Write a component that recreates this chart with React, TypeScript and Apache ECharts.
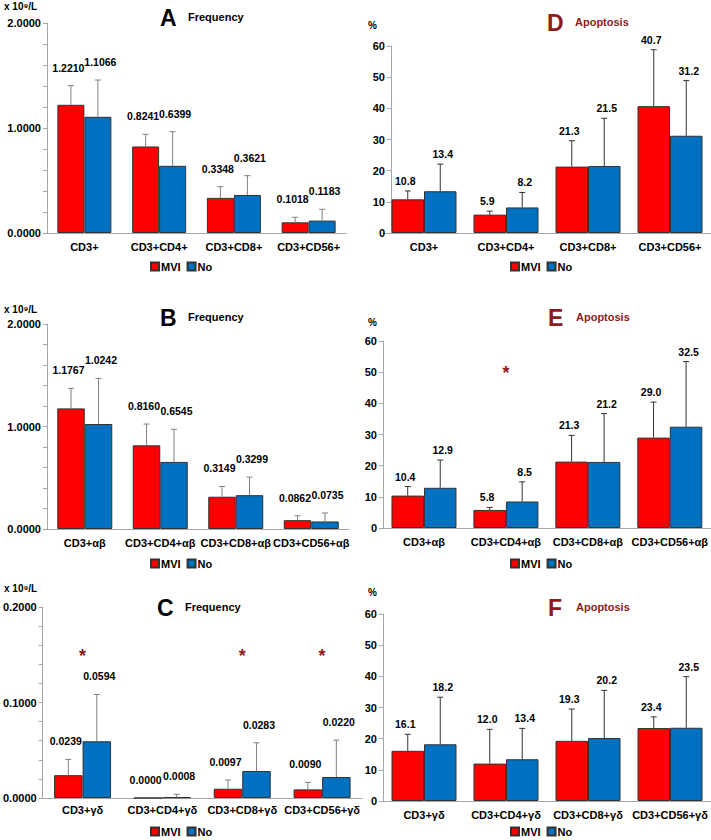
import React, { useEffect, useRef } from "react";
import * as echarts from "echarts";

// ---------- data ----------
const catA = ["CD3+", "CD3+CD4+", "CD3+CD8+", "CD3+CD56+"];
const catB = ["CD3+αβ", "CD3+CD4+αβ", "CD3+CD8+αβ", "CD3+CD56+αβ"];
const catC = ["CD3+γδ", "CD3+CD4+γδ", "CD3+CD8+γδ", "CD3+CD56+γδ"];

const freqA_MVI = [1.221, 0.8241, 0.3348, 0.1018];
const freqA_No = [1.1066, 0.6399, 0.3621, 0.1183];
const errA_MVI = [1.403, 0.94, 0.441, 0.15];
const errA_No = [1.457, 0.965, 0.546, 0.226];

const freqB_MVI = [1.1767, 0.816, 0.3149, 0.0862];
const freqB_No = [1.0242, 0.6545, 0.3299, 0.0735];
const errB_MVI = [1.372, 1.024, 0.415, 0.129];
const errB_No = [1.469, 0.973, 0.506, 0.156];

const freqC_MVI = [0.0239, 0.0, 0.0097, 0.009];
const freqC_No = [0.0594, 0.0008, 0.0283, 0.022];
const errC_MVI = [0.0404, 0.0, 0.0188, 0.0164];
const errC_No = [0.1084, 0.0039, 0.0578, 0.0606];

const apoD_MVI = [10.8, 5.9, 21.3, 40.7];
const apoD_No = [13.4, 8.2, 21.5, 31.2];
const errD_MVI = [13.5, 7.0, 29.6, 58.8];
const errD_No = [22.1, 13.0, 36.8, 48.9];

const apoE_MVI = [10.4, 5.8, 21.3, 29.0];
const apoE_No = [12.9, 8.5, 21.2, 32.5];
const errE_MVI = [13.3, 6.6, 29.7, 40.4];
const errE_No = [21.8, 14.8, 36.7, 53.4];

const apoF_MVI = [16.1, 12.0, 19.3, 23.4];
const apoF_No = [18.2, 13.4, 20.2, 23.5];
const errF_MVI = [21.4, 23.0, 29.5, 27.0];
const errF_No = [33.3, 23.3, 35.5, 39.9];

// significance marks: [category index, value]
const starsC = [[0, 0.153], [2, 0.153], [3, 0.153]];
const starsE = [[1, 51]];

const freqTicksMax = 2;
const freqTickStep = 1;
const gdTicksMax = 0.2;
const gdTickStep = 0.1;
const apoTicksMax = 60;
const apoTickStep = 10;

// ---------- styles / layout ----------
const FONT = "Arial, 'Liberation Sans', sans-serif";
const RED = "#FF0000";
const BLUE = "#0070C0";
const DARKRED = "#8E1B1B";
const AXIS = "#A6A6A6";

type Panel = {
  letter: string;
  title: string;
  kind: "freq" | "apo";
  cats: string[];
  mvi: number[];
  no: number[];
  eM: number[];
  eN: number[];
  grid: { left: number; top: number; width: number; height: number };
  max: number;
  step: number;
  dec: number;
  bw: number;
  yOff: number;
  titleX: number;
  titleY: number;
  unitX: number;
  unitY: number;
  legendX: number;
  legendY: number;
  labelMargin: number;
};

const panels: Panel[] = [
  { letter: "A", title: "Frequency", kind: "freq", cats: catA, mvi: freqA_MVI, no: freqA_No, eM: errA_MVI, eN: errA_No,
    grid: { left: 47, top: 23, width: 299, height: 210 }, max: freqTicksMax, step: freqTickStep, dec: 4, bw: 27, yOff: 0,
    titleX: 160, titleY: 18, unitX: 4, unitY: 7, legendX: 150, legendY: 261, labelMargin: 8 },
  { letter: "B", title: "Frequency", kind: "freq", cats: catB, mvi: freqB_MVI, no: freqB_No, eM: errB_MVI, eN: errB_No,
    grid: { left: 47, top: 324, width: 302, height: 205 }, max: freqTicksMax, step: freqTickStep, dec: 4, bw: 27.5, yOff: 0,
    titleX: 160, titleY: 318, unitX: 4, unitY: 310, legendX: 150, legendY: 558, labelMargin: 8 },
  { letter: "C", title: "Frequency", kind: "freq", cats: catC, mvi: freqC_MVI, no: freqC_No, eM: errC_MVI, eN: errC_No,
    grid: { left: 42, top: 607, width: 320, height: 191 }, max: gdTicksMax, step: gdTickStep, dec: 4, bw: 28.5, yOff: 0,
    titleX: 157, titleY: 608, unitX: 4, unitY: 589, legendX: 150, legendY: 826, labelMargin: 6 },
  { letter: "D", title: "Apoptosis", kind: "apo", cats: catA, mvi: apoD_MVI, no: apoD_No, eM: errD_MVI, eN: errD_No,
    grid: { left: 383, top: 46, width: 328, height: 187 }, max: apoTicksMax, step: apoTickStep, dec: 1, bw: 32.5, yOff: -8,
    titleX: 547, titleY: 23, unitX: 368, unitY: 26, legendX: 510, legendY: 261, labelMargin: 8 },
  { letter: "E", title: "Apoptosis", kind: "apo", cats: catB, mvi: apoE_MVI, no: apoE_No, eM: errE_MVI, eN: errE_No,
    grid: { left: 383, top: 341, width: 328, height: 187 }, max: apoTicksMax, step: apoTickStep, dec: 1, bw: 32.5, yOff: 0,
    titleX: 548, titleY: 318, unitX: 368, unitY: 323, legendX: 510, legendY: 558, labelMargin: 8 },
  { letter: "F", title: "Apoptosis", kind: "apo", cats: catC, mvi: apoF_MVI, no: apoF_No, eM: errF_MVI, eN: errF_No,
    grid: { left: 383, top: 614, width: 328, height: 187 }, max: apoTicksMax, step: apoTickStep, dec: 1, bw: 32.5, yOff: 0,
    titleX: 548, titleY: 608, unitX: 368, unitY: 593, legendX: 510, legendY: 826, labelMargin: 8 },
];

function buildOption() {
  const grids: any[] = [];
  const xAxes: any[] = [];
  const yAxes: any[] = [];
  const series: any[] = [];
  const legends: any[] = [];
  const graphics: any[] = [];

  panels.forEach((p, i) => {
    grids.push({ ...p.grid, containLabel: false });
    xAxes.push({
      type: "category",
      gridIndex: i,
      data: p.cats,
      axisLine: { show: true, lineStyle: { color: AXIS, width: 1 } },
      axisTick: { show: false },
      axisLabel: { color: "#000", fontWeight: "bold", fontSize: 11, fontFamily: FONT, margin: p.labelMargin, interval: 0 },
    });
    const isFreq = p.kind === "freq";
    yAxes.push({
      type: "value",
      gridIndex: i,
      min: 0,
      max: p.max,
      interval: p.step,
      offset: p.yOff,
      splitLine: { show: false },
      axisLine: { show: true, lineStyle: { color: AXIS, width: 1 } },
      axisTick: { show: true, length: 4, lineStyle: { color: AXIS } },
      minorTick: isFreq ? { show: true, splitNumber: 5, length: 4, lineStyle: { color: AXIS } } : { show: false },
      axisLabel: {
        color: "#000",
        fontWeight: "bold",
        fontSize: 11,
        fontFamily: FONT,
        margin: 6,
        formatter: (v: number) => (isFreq ? v.toFixed(4) : String(v)),
      },
    });

    const barBase = {
      type: "bar",
      xAxisIndex: i,
      yAxisIndex: i,
      barWidth: p.bw,
      barGap: "0%",
      z: 2,
    };
    series.push({ ...barBase, name: "MVI", data: p.mvi, itemStyle: { color: RED, borderColor: "#333", borderWidth: 1 } });
    series.push({ ...barBase, name: "No", data: p.no, itemStyle: { color: BLUE, borderColor: "#333", borderWidth: 1 } });

    const errColor = isFreq ? "#808080" : "#333333";
    const labelOff = isFreq ? 18 : 10;
    const mk = (vals: number[], tops: number[], side: number) => ({
      type: "custom",
      xAxisIndex: i,
      yAxisIndex: i,
      z: 5,
      silent: true,
      clip: false,
      encode: { x: 0, y: 1 },
      data: vals.map((v, k) => [k, v, tops[k]]),
      renderItem: (params: any, api: any) => {
        const cat = api.value(0);
        const val = api.value(1);
        const top = api.value(2);
        const base = api.coord([cat, val]);
        const tp = api.coord([cat, top]);
        const x = base[0] + (side * p.bw) / 2;
        const children: any[] = [];
        if (top > val) {
          children.push({ type: "line", shape: { x1: x, y1: base[1], x2: x, y2: tp[1] }, style: { stroke: errColor, lineWidth: 1 } });
          children.push({ type: "line", shape: { x1: x - 3, y1: tp[1], x2: x + 3, y2: tp[1] }, style: { stroke: errColor, lineWidth: 1 } });
        }
        children.push({
          type: "text",
          style: {
            text: val.toFixed(p.dec),
            x: x + side * 2.5,
            y: tp[1] - labelOff,
            align: "center",
            verticalAlign: "middle",
            font: `bold 10.5px ${FONT}`,
            fill: "#000",
          },
        });
        return { type: "group", children };
      },
    });
    series.push(mk(p.mvi, p.eM, -1));
    series.push(mk(p.no, p.eN, 1));

    legends.push({
      left: p.legendX,
      top: p.legendY,
      padding: 0,
      itemGap: 6,
      itemWidth: 8,
      itemHeight: 8,
      icon: "rect",
      selectedMode: false,
      data: ["MVI", "No"],
      textStyle: { color: "#000", fontWeight: "bold", fontSize: 11, fontFamily: FONT, padding: [0, 0, 0, -3] },
    });

    const titleColor = isFreq ? "#000" : DARKRED;
    graphics.push({
      type: "text",
      left: p.titleX,
      top: p.titleY - 12,
      style: { text: p.letter, font: `bold 23px ${FONT}`, fill: titleColor },
    });
    graphics.push({
      type: "text",
      left: p.titleX + 28,
      top: p.titleY - 7,
      style: { text: p.title, font: `bold 11px ${FONT}`, fill: titleColor },
    });
    graphics.push({
      type: "text",
      left: p.unitX,
      top: p.unitY - 6,
      style: { text: isFreq ? "x 10⁹/L" : "%", font: `bold 10px ${FONT}`, fill: "#000" },
    });
  });

  const starSeries = (data: number[][], idx: number) => ({
    type: "custom",
    xAxisIndex: idx,
    yAxisIndex: idx,
    data,
    silent: true,
    clip: false,
    z: 6,
    encode: { x: 0, y: 1 },
    renderItem: (params: any, api: any) => {
      const pt = api.coord([api.value(0), api.value(1)]);
      return {
        type: "text",
        style: {
          text: "*",
          x: pt[0],
          y: pt[1] + 4,
          align: "center",
          verticalAlign: "middle",
          font: `bold 18px ${FONT}`,
          fill: DARKRED,
        },
      };
    },
  });
  series.push(starSeries(starsC, 2));
  series.push(starSeries(starsE, 4));

  return {
    animation: false,
    backgroundColor: "#fff",
    grid: grids,
    xAxis: xAxes,
    yAxis: yAxes,
    legend: legends,
    series,
    graphic: graphics,
  };
}

export default function App() {
  const ref = useRef<HTMLDivElement>(null);
  useEffect(() => {
    document.body.style.margin = "0";
    if (!ref.current) return;
    const chart = echarts.init(ref.current, null, { renderer: "svg" });
    chart.setOption(buildOption() as any);
    return () => chart.dispose();
  }, []);
  return <div ref={ref} style={{ width: 711, height: 840 }} />;
}
